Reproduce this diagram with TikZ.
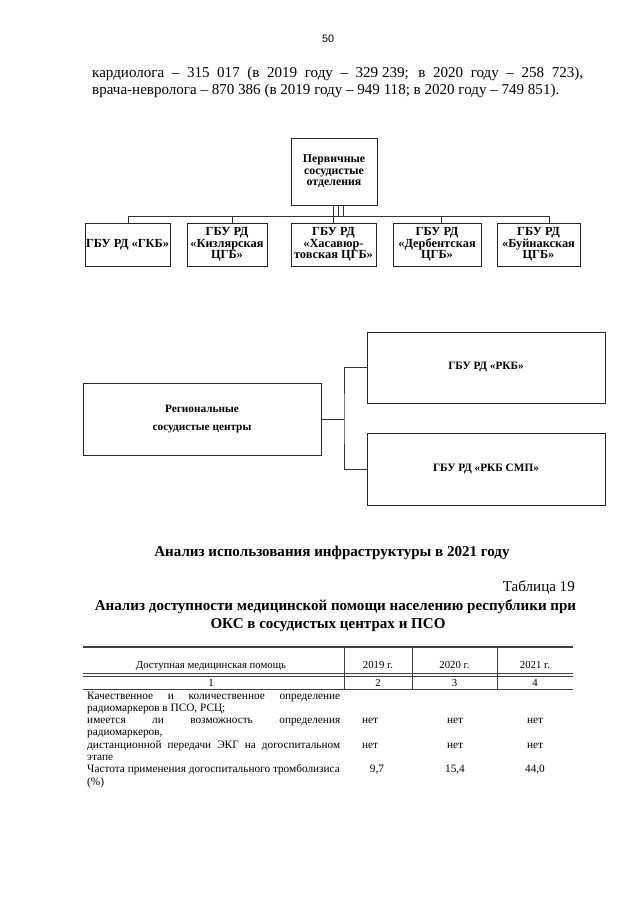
\documentclass[tikz,border=0pt]{standalone}
\usepackage{fontspec}
\setmainfont{Liberation Serif}
\newfontfamily\pgsans{Liberation Sans}
\tikzset{
  box/.style={draw=black!85, line width=0.9pt, inner sep=0pt, align=center, font=\fontsize{11.5}{10.9}\selectfont\bfseries},
  topbox/.style={box, font=\fontsize{11}{10.6}\selectfont\bfseries},
  bigbox/.style={draw=black!85, line width=0.9pt, inner sep=0pt, align=center, font=\fontsize{10.5}{16.8}\selectfont\bfseries},
  wh/.style 2 args={minimum width=#1*0.93pt, minimum height=#2*0.93pt},
  conn/.style={draw=black!80, line width=0.6pt},
  body/.style={inner sep=0pt, font=\fontsize{14}{16}\selectfont},
  head/.style={inner sep=0pt, font=\fontsize{14}{16}\selectfont\bfseries},
  tab/.style={inner sep=0pt, font=\fontsize{10}{12}\selectfont},
  tabb/.style={inner sep=0pt, font=\fontsize{10.5}{12}\selectfont},
  tabrule/.style={draw=black!75, line width=0.7pt}
}
\begin{document}
\begin{tikzpicture}[x=0.93pt,y=-0.93pt]
\useasboundingbox[fill=white] (0,0) rectangle (640,905);

% page number and text
\node[inner sep=0pt, font=\pgsans\fontsize{10}{12}\selectfont, anchor=base] (pg) at (328,42) {50};
\node[body, anchor=base west] (l1) at (92,77) {\makebox[456.6pt][s]{кардиолога – 315 017 (в 2019 году – 329\hspace{3.5pt}239; в 2020 году – 258 723),}};
\node[body, anchor=base west] (l2) at (92,94) {врача-невролога – 870 386 (в 2019 году – 949 118; в 2020 году – 749 851).};

% first scheme
\node[topbox, wh={86}{67}] (P) at (334,171.5) {Первичные\\сосудистые\\отделения};
\node[box, wh={85}{43}] (b1) at (127.5,244.5) {ГБУ РД «ГКБ»};
\node[box, wh={80}{43}] (b2) at (227,244.5) {ГБУ РД\\«Кизлярская\\ЦГБ»};
\node[box, wh={85}{43}] (b3) at (333.5,244.5) {ГБУ РД\\«Хасавюр-\\товская ЦГБ»};
\node[box, wh={88}{43}] (b4) at (437,244.5) {ГБУ РД\\«Дербентская\\ЦГБ»};
\node[box, wh={83}{43}] (b5) at (538.5,244.5) {ГБУ РД\\«Буйнакская\\ЦГБ»};
\coordinate (d1) at (128,216);
\coordinate (d2) at (232,216);
\coordinate (d3) at (333,216);
\coordinate (d4) at (441,216);
\coordinate (d5) at (549,216);
\coordinate (e1) at (338,216);
\coordinate (e2) at (343,216);
\draw[conn] (d1) -- (d5);
\foreach \i in {1,2,3,4,5} \draw[conn] (d\i) -- (d\i |- b\i.north);
\draw[conn] (d3 |- P.south) -- (d3);
\draw[conn] (e1 |- P.south) -- (e1);
\draw[conn] (e2 |- P.south) -- (e2);

% second scheme
\node[bigbox, wh={238}{72}] (R) at (202,419) {Региональные\\сосудистые центры};
\node[bigbox, wh={238}{71}] (K1) at (486,367.5) {ГБУ РД «РКБ»};
\node[bigbox, wh={238}{72}] (K2) at (486,469) {ГБУ РД «РКБ СМП»};
\coordinate (j) at (344,419);
\draw[conn] (R.east) -- (j);
\draw[conn] (K1.west) -| (j) |- (K2.west);

% headings
\node[head, anchor=base] (h1) at (332,556) {Анализ использования инфраструктуры в 2021 году};
\node[body, anchor=base east] (tn) at (575,591) {Таблица 19};
\node[head, anchor=base] (h2) at (335.5,610) {Анализ доступности медицинской помощи населению республики при};
\node[head, anchor=base] (h3) at (328,628) {ОКС в сосудистых центрах и ПСО};

% table rules
\draw[tabrule, line width=1pt] (83,647) -- (573,647);
\foreach \x in {344,412,497} \draw[tabrule] (\x,647) -- (\x,689);
\draw[tabrule] (83,673) -- (573,673);
\draw[tabrule] (83,676) -- (573,676);
\draw[tabrule] (83,689) -- (573,689);

% table header
\node[tab, anchor=base] (th1) at (211,668) {Доступная медицинская помощь};
\node[tab, anchor=base] (th2) at (378,668) {2019 г.};
\node[tab, anchor=base] (th3) at (454.5,668) {2020 г.};
\node[tab, anchor=base] (th4) at (535,668) {2021 г.};
\node[tab, anchor=base] (tn1) at (211,686) {1};
\node[tab, anchor=base] (tn2) at (378,686) {2};
\node[tab, anchor=base] (tn3) at (454.5,686) {3};
\node[tab, anchor=base] (tn4) at (535,686) {4};

% table body
\node[tabb, anchor=base west] (r1) at (87,699) {\makebox[235.3pt][s]{Качественное и количественное определение}};
\node[tabb, anchor=base west] (r2) at (87,711) {радиомаркеров в ПСО, РСЦ;};
\node[tabb, anchor=base west] (r3) at (87,723) {\makebox[235.3pt][s]{имеется ли возможность определения}};
\node[tabb, anchor=base west] (r4) at (87,735) {радиомаркеров,};
\node[tabb, anchor=base west] (r5) at (87,748) {\makebox[235.3pt][s]{дистанционной передачи ЭКГ на догоспитальном}};
\node[tabb, anchor=base west] (r6) at (87,760) {этапе};
\node[tabb, anchor=base west] (r7) at (87,772) {Частота применения догоспитального тромболизиса};
\node[tabb, anchor=base west] (r8) at (87,785) {(\%)};

\node[tabb, anchor=base] (v11) at (370,723) {нет};
\node[tabb, anchor=base] (v12) at (455,723) {нет};
\node[tabb, anchor=base] (v13) at (535,723) {нет};
\node[tabb, anchor=base] (v21) at (370,748) {нет};
\node[tabb, anchor=base] (v22) at (455,748) {нет};
\node[tabb, anchor=base] (v23) at (535,748) {нет};
\node[tabb, anchor=base] (v31) at (377,772) {9,7};
\node[tabb, anchor=base] (v32) at (455,772) {15,4};
\node[tabb, anchor=base] (v33) at (535,772) {44,0};
\end{tikzpicture}
\end{document}
